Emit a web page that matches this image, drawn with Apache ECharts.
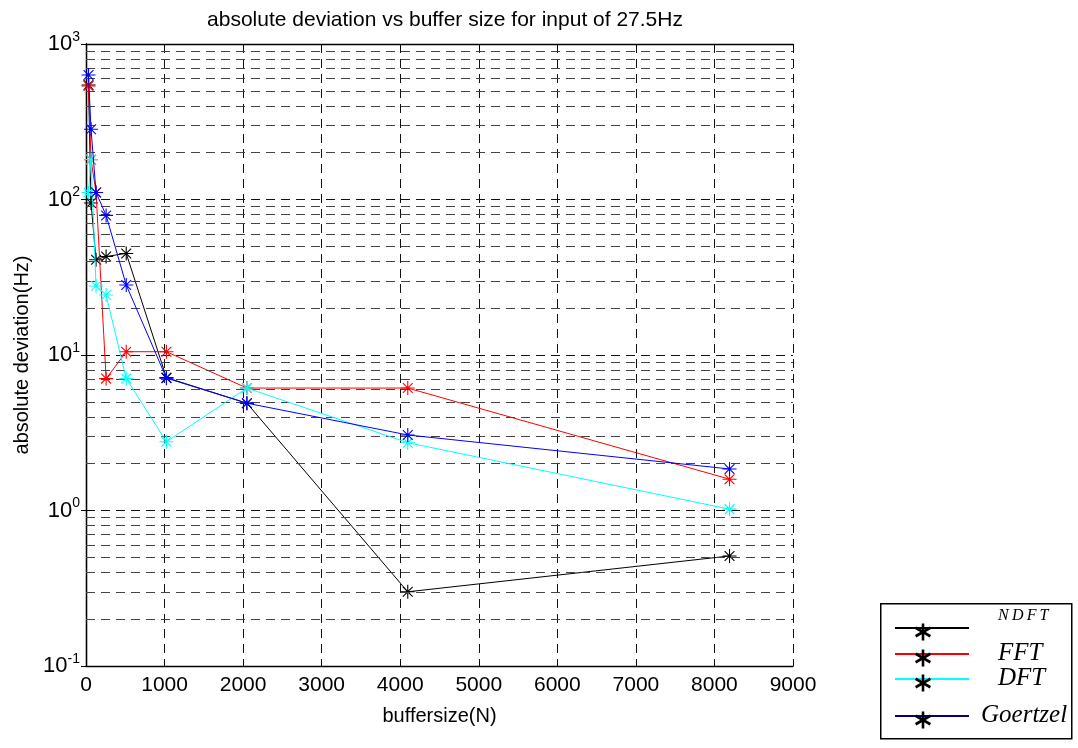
<!DOCTYPE html>
<html><head><meta charset="utf-8">
<script src="https://cdn.jsdelivr.net/npm/echarts@6/dist/echarts.min.js"></script>
<style>html,body{margin:0;padding:0;background:#fff}#c{width:1078px;height:748px}</style>
</head><body><div id="c"></div>
<script>
const bufferSizes = [32, 64, 128, 256, 512, 1024, 2048, 4096, 8192];
const ndft     = [545, 95, 41, 43, 45, 7.15, 4.9, 0.30, 0.51];
const fft      = [537, 180, 111, 7.05, 10.5, 10.5, 6.13, 6.13, 1.59];
const dft      = [111, 181, 27.8, 24.3, 7.05, 2.77, 6.13, 2.73, 1.02];
const goertzel = [632, 283, 111, 79, 28.2, 7.1, 4.9, 3.06, 1.85];
const seriesNames = ['NDFT', 'FFT', 'DFT', 'Goertzel'];
const xTicks = [0, 1000, 2000, 3000, 4000, 5000, 6000, 7000, 8000, 9000];
const minorGrid = [0.2,0.3,0.4,0.5,0.6,0.7,0.8,0.9, 2,3,4,5,6,7,8,9, 20,30,40,50,60,70,80,90, 200,300,400,500,600,700,800,900];

const FONT = "'Liberation Sans', Arial, sans-serif";
const colors = ['#000000', '#ff0000', '#00ffff', '#0000ff'];
const allData = [ndft, fft, dft, goertzel];
const star = 'path://M10,0L10,20M0,10L20,10M3,3L17,17M3,17L17,3';

const chart = echarts.init(document.getElementById('c'), null, {renderer: 'canvas'});

const series = allData.map((arr, i) => ({
  name: seriesNames[i],
  type: 'line',
  data: bufferSizes.map((x, k) => [x, arr[k]]),
  symbol: star,
  symbolSize: 14,
  showSymbol: true,
  z: 3 + i,
  lineStyle: {color: colors[i], width: 1},
  itemStyle: {color: colors[i], borderColor: colors[i], borderWidth: 1.1},
  animation: false
}));
series.unshift({
  name: '_grid', type: 'line', data: [], z: 1, silent: true,
  markLine: {
    silent: true, symbol: ['none', 'none'], animation: false,
    label: {show: false},
    lineStyle: {type: [9, 6], color: '#444', width: 1},
    data: minorGrid.map(v => ({yAxis: v}))
  }
});

const dash = {type: [9, 6], color: '#111', width: 1};
const option = {
  backgroundColor: '#fff',
  animation: false,
  title: {
    text: 'absolute deviation vs buffer size for input of 27.5Hz',
    left: 440, top: 5, textAlign: 'center',
    textStyle: {fontFamily: FONT, fontSize: 21, fontWeight: 'normal', color: '#000'}
  },
  grid: {left: 86, right: 285, top: 44, bottom: 82, containLabel: false},
  xAxis: [{
    type: 'value', min: 0, max: 9000, interval: 1000,
    name: 'buffersize(N)', nameLocation: 'middle', nameGap: 40,
    nameTextStyle: {fontFamily: FONT, fontSize: 20, color: '#000'},
    axisLine: {show: true, lineStyle: {color: '#000', width: 1.3}},
    axisTick: {show: true, inside: true, length: 5, lineStyle: {color: '#000'}},
    axisLabel: {fontFamily: FONT, fontSize: 21, color: '#000', margin: 9,
      formatter: v => xTicks.includes(v) ? String(v) : ''},
    splitLine: {show: true, lineStyle: dash}
  }, {
    type: 'value', min: 0, max: 9000, interval: 1000, position: 'top',
    axisLine: {show: true, lineStyle: {color: '#000', width: 1.3}},
    axisTick: {show: true, inside: true, length: 5, lineStyle: {color: '#000'}},
    axisLabel: {show: false}, splitLine: {show: false}
  }],
  yAxis: [{
    type: 'log', logBase: 10, min: 0.1, max: 1000,
    name: 'absolute deviation(Hz)', nameLocation: 'middle', nameGap: 44,
    nameTextStyle: {fontFamily: FONT, fontSize: 20, color: '#000'},
    axisLine: {show: true, lineStyle: {color: '#000', width: 1.3}},
    axisTick: {show: true, inside: true, length: 5, lineStyle: {color: '#000'}},
    axisLabel: {
      margin: 6, color: '#000',
      formatter: v => '{b|10}{s|' + Math.round(Math.log10(v)) + '}',
      rich: {
        b: {fontFamily: FONT, fontSize: 22, color: '#000'},
        s: {fontFamily: FONT, fontSize: 14, color: '#000', padding: [0, 0, 14, 0]}
      }
    },
    splitLine: {show: true, lineStyle: dash}
  }, {
    type: 'log', logBase: 10, min: 0.1, max: 1000, position: 'right',
    axisLine: {show: true, lineStyle: {color: '#000', width: 1.3}},
    axisTick: {show: true, inside: true, length: 5, lineStyle: {color: '#000'}},
    axisLabel: {show: false}, splitLine: {show: false}
  }],
  series: series,
  graphic: (function () {
    const els = [{
      type: 'rect', left: 880, top: 603, silent: true,
      shape: {x: 0, y: 0, width: 191, height: 135},
      style: {fill: '#fff', stroke: '#000', lineWidth: 1.5}
    }];
    const legendColors = ['#000000', '#ff0000', '#00ffff', '#000080'];
    const ys = [628, 654, 679, 716];
    const txt = [
      {t: 'NDFT', x: 998, size: 16, sp: true},
      {t: 'FFT', x: 998, size: 25},
      {t: 'DFT', x: 998, size: 25},
      {t: 'Goertzel', x: 981, size: 25}
    ];
    ys.forEach((y, i) => {
      els.push({type: 'line', silent: true, shape: {x1: 895, y1: y, x2: 969, y2: y},
        style: {stroke: legendColors[i], lineWidth: 2}});
      const cx = 923, cy = y + 4, r = 8.5;
      [90, 30, 150].forEach(a => {
        const dx = r * Math.cos(a * Math.PI / 180), dy = r * Math.sin(a * Math.PI / 180);
        els.push({type: 'line', silent: true, z: 10,
          shape: {x1: cx - dx, y1: cy - dy, x2: cx + dx, y2: cy + dy},
          style: {stroke: '#000', lineWidth: 2.6}});
      });
      const label = txt[i].sp ? txt[i].t.split('').join('\u2009') : txt[i].t;
      els.push({type: 'text', silent: true, x: txt[i].x, y: i === 0 ? 616 : y - 1,
        style: {text: label, fill: '#000', font: 'italic ' + txt[i].size + 'px "Liberation Serif", serif',
          textAlign: 'left', textVerticalAlign: 'middle'}});
    });
    return els;
  })()
};
chart.setOption(option);
</script>
</body></html>
